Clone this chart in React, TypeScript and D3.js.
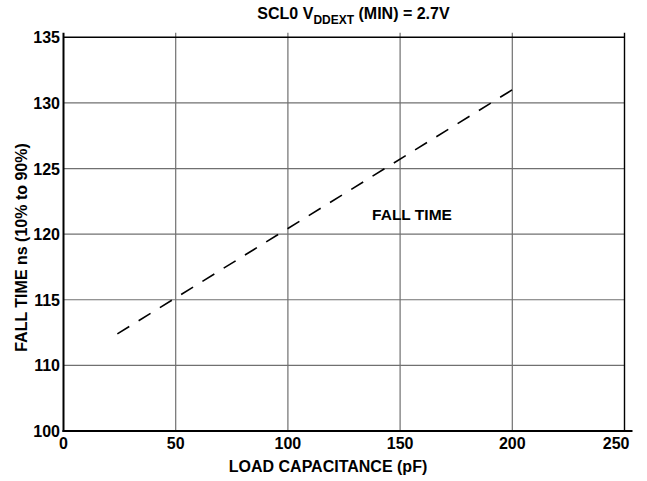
import React from "react";
import * as d3 from "d3";

const W = 647;
const H = 481;

// data
const loadCapacitance = [24, 200];
const fallTime = [112.4, 131.0];

const xTicks = [0, 50, 100, 150, 200, 250];
const xTickLabels = ["0", "50", "100", "150", "200", "250"];
// the original chart labels the bottom gridline "100" (one step below 110)
const yTicks = [105, 110, 115, 120, 125, 130, 135];
const yTickLabels = ["100", "110", "115", "120", "125", "130", "135"];

const FONT = "'Liberation Sans', Arial, Helvetica, sans-serif";

export default function App() {
  const left = 63.5;
  const right = 624.5;
  const top = 37.3;
  const bottom = 431;
  const x = d3.scaleLinear().domain([0, 250]).range([left, right]);
  const y = d3.scaleLinear().domain([105, 135]).range([bottom, top]);

  const pts: [number, number][] = loadCapacitance.map((c, i) => [c, fallTime[i]]);
  const line = d3
    .line<[number, number]>()
    .x((d) => x(d[0]))
    .y((d) => y(d[1]));

  return (
    <svg
      width={W}
      height={H}
      style={{ position: "absolute", left: 0, top: 0, background: "#fff" }}
      fontFamily={FONT}
    >
      <rect width={W} height={H} fill="#fff" />
      {/* horizontal gridlines */}
      {yTicks.slice(1, -1).map((t) => (
        <line key={"h" + t} x1={left} x2={right} y1={y(t)} y2={y(t)} stroke="#707070" strokeWidth={1.2} />
      ))}
      {/* vertical gridlines */}
      {xTicks.slice(1, -1).map((t) => (
        <line key={"v" + t} x1={x(t)} x2={x(t)} y1={top - 4.5} y2={bottom} stroke="#707070" strokeWidth={1.2} />
      ))}
      {/* top line */}
      <line x1={left} x2={right} y1={y(135)} y2={y(135)} stroke="#000" strokeWidth={1.5} />
      {/* right border */}
      <line x1={x(250)} x2={x(250)} y1={top - 4.5} y2={bottom} stroke="#000" strokeWidth={1.4} />
      {/* left axis */}
      <line x1={left} x2={left} y1={top - 4.5} y2={bottom + 1} stroke="#000" strokeWidth={2} />
      {/* bottom axis */}
      <line x1={left - 1} x2={right + 8} y1={bottom} y2={bottom} stroke="#000" strokeWidth={2} />

      {/* data line */}
      <path d={line(pts) || ""} fill="none" stroke="#000" strokeWidth={1.6} strokeDasharray="14,11" />

      {/* y tick labels */}
      {yTicks.map((t, i) => (
        <text
          key={"yl" + t}
          x={left - 3.5}
          y={y(t) + 6}
          textAnchor="end"
          fontSize={16}
          fontWeight="bold"
          fill="#000"
        >
          {yTickLabels[i]}
        </text>
      ))}
      {/* x tick labels */}
      {xTicks.map((t, i) => {
        const last = i === xTicks.length - 1;
        return (
          <text
            key={"xl" + t}
            x={last ? x(t) + 5 : x(t)}
            y={bottom + 17.5}
            textAnchor={last ? "end" : "middle"}
            fontSize={16}
            fontWeight="bold"
            fill="#000"
          >
            {xTickLabels[i]}
          </text>
        );
      })}

      {/* series label */}
      <text x={412} y={220} textAnchor="middle" fontSize={15.5} fontWeight="bold" fill="#000">
        FALL TIME
      </text>

      {/* axis titles */}
      <text x={328} y={472} textAnchor="middle" fontSize={16} fontWeight="bold" fill="#000">
        LOAD CAPACITANCE (pF)
      </text>
      <text
        transform="translate(27, 247.5) rotate(-90)"
        textAnchor="middle"
        fontSize={16}
        fontWeight="bold"
        fill="#000"
      >
        FALL TIME ns (10% to 90%)
      </text>

      {/* title */}
      <text x={353.5} y={19} textAnchor="middle" fontSize={16} fontWeight="bold" fill="#000">
        SCL0 V
        <tspan fontSize={12} dy={5}>DDEXT</tspan>
        <tspan dy={-5}> (MIN) = 2.7V</tspan>
      </text>
    </svg>
  );
}
